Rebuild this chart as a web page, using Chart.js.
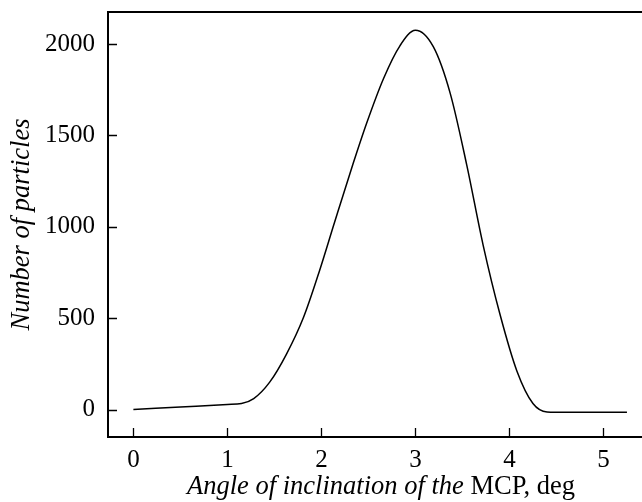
<!DOCTYPE html>
<html>
<head>
<meta charset="utf-8">
<script src="https://cdn.jsdelivr.net/npm/chart.js@4.4.1/dist/chart.umd.min.js"></script>
<style>
  html, body { margin: 0; padding: 0; background: #fff; }
  #wrap { width: 642px; height: 502px; }
</style>
</head>
<body>
<div id="wrap"><canvas id="chart"></canvas></div>
<script>
// curve: angle (deg) -> number of particles
const angles = [0, 0.5, 1.0, 1.15, 1.28, 1.45, 1.63, 1.81, 1.98, 2.14, 2.34, 2.48, 2.66, 2.835, 3.0,
                3.19, 3.37, 3.545, 3.72, 3.9, 4.08, 4.25, 4.4, 4.6, 5.25];
const counts = [0, 14, 28, 33, 60, 150, 305, 505, 760, 1025, 1350, 1565, 1810, 1990, 2075,
                1985, 1730, 1340, 900, 520, 210, 33, -13, -15, -15];
const xTicks = [0, 1, 2, 3, 4, 5];
const yTicks = [0, 500, 1000, 1500, 2000];

const FONT = "'Liberation Serif', 'Times New Roman', Times, serif";

const points = angles.map((a, i) => ({ x: a, y: counts[i] }));

// top frame line, inward tick marks, axis titles
const decor = {
  id: 'decor',
  afterDraw(chart) {
    const ctx = chart.ctx;
    const a = chart.chartArea;
    const xs = chart.scales.x, ys = chart.scales.y;
    ctx.save();
    ctx.strokeStyle = '#000';
    ctx.lineWidth = 2;
    ctx.beginPath();
    ctx.moveTo(a.left - 1, a.top);
    ctx.lineTo(a.right, a.top);
    ctx.stroke();

    ctx.lineWidth = 1.3;
    ctx.beginPath();
    xTicks.forEach(v => {
      const px = Math.round(xs.getPixelForValue(v)) + 0.5;
      ctx.moveTo(px, a.bottom);
      ctx.lineTo(px, a.bottom - 9);
    });
    yTicks.forEach(v => {
      const py = Math.round(ys.getPixelForValue(v)) + 0.5;
      ctx.moveTo(a.left, py);
      ctx.lineTo(a.left + 9, py);
    });
    ctx.stroke();

    ctx.fillStyle = '#000';
    ctx.textBaseline = 'alphabetic';
    // x title: italic part + upright part
    const it = 'Angle of inclination of the ';
    const up = 'MCP, deg';
    ctx.font = 'italic 26.5px ' + FONT;
    const w1 = ctx.measureText(it).width;
    ctx.font = '26.5px ' + FONT;
    const w2 = ctx.measureText(up).width;
    const x0 = 381 - (w1 + w2) / 2;
    ctx.textAlign = 'left';
    ctx.font = 'italic 26.5px ' + FONT;
    ctx.fillText(it, x0, 494);
    ctx.font = '26.5px ' + FONT;
    ctx.fillText(up, x0 + w1, 494);

    // y title
    ctx.translate(29, (a.top + a.bottom) / 2);
    ctx.rotate(-Math.PI / 2);
    ctx.textAlign = 'center';
    ctx.font = 'italic 26.5px ' + FONT;
    ctx.fillText('Number of particles', 0, 0);
    ctx.restore();
  }
};

const ctx = document.getElementById('chart').getContext('2d');
new Chart(ctx, {
  type: 'line',
  data: {
    datasets: [{
      data: points,
      borderColor: '#000',
      borderWidth: 1.5,
      pointRadius: 0,
      fill: false,
      cubicInterpolationMode: 'monotone'
    }]
  },
  options: {
    responsive: true,
    maintainAspectRatio: false,
    animation: false,
    layout: { padding: { top: 12, right: 0, left: 0, bottom: 0 } },
    plugins: { legend: { display: false }, tooltip: { enabled: false } },
    scales: {
      x: {
        type: 'linear',
        min: -0.27,
        max: 5.41,
        grid: { display: false, drawTicks: false },
        border: { display: true, color: '#000', width: 2 },
        afterBuildTicks: s => { s.ticks = xTicks.map(v => ({ value: v })); },
        afterFit: s => { s.height = 65; s.paddingLeft = 0; s.paddingRight = 0; },
        ticks: { color: '#000', padding: 8, maxRotation: 0, font: { family: FONT, size: 25 },
                 callback: v => String(v) }
      },
      y: {
        min: -150,
        max: 2175,
        grid: { display: false, drawTicks: false },
        border: { display: true, color: '#000', width: 2 },
        afterBuildTicks: s => { s.ticks = yTicks.map(v => ({ value: v })); },
        afterFit: s => { s.width = 108; s.paddingTop = 0; s.paddingBottom = 0; },
        ticks: { color: '#000', padding: 13, font: { family: FONT, size: 25 },
                 callback: v => String(v) }
      }
    }
  },
  plugins: [decor]
});
</script>
</body>
</html>
